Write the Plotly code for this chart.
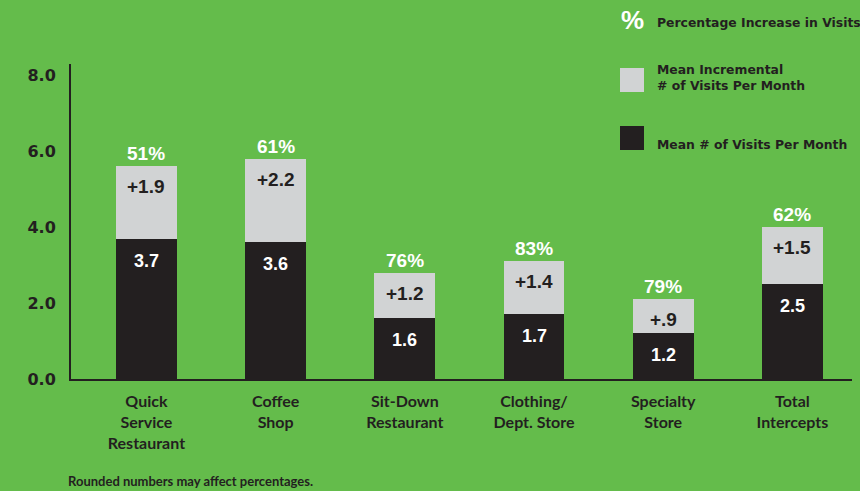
import plotly.graph_objects as go

categories = ["Quick<br>Service<br>Restaurant", "Coffee<br>Shop", "Sit-Down<br>Restaurant",
              "Clothing/<br>Dept. Store", "Specialty<br>Store", "Total<br>Intercepts"]
mean_visits = [3.7, 3.6, 1.6, 1.7, 1.2, 2.5]
incremental = [1.9, 2.2, 1.2, 1.4, 0.9, 1.5]
incremental_labels = ["+1.9", "+2.2", "+1.2", "+1.4", "+.9", "+1.5"]
pct_increase = ["51%", "61%", "76%", "83%", "79%", "62%"]
y_ticks = [0, 2, 4, 6, 8]
y_tick_labels = ["0.0", "2.0", "4.0", "6.0", "8.0"]

GREEN = "#64BC4B"
DARK = "#231F20"
LIGHT = "#D1D3D4"
WIDE = "DejaVu Sans"
NARROW = "Lato, Roboto, sans-serif"
NUM = "Liberation Sans, Arial, sans-serif"

xs = list(range(len(categories)))

fig = go.Figure()
fig.add_trace(go.Bar(x=xs, y=mean_visits, marker=dict(color=DARK, line=dict(width=0)),
                     width=0.47, name="Mean # of Visits Per Month", hoverinfo="skip"))
fig.add_trace(go.Bar(x=xs, y=incremental, marker=dict(color=LIGHT, line=dict(width=0)),
                     width=0.47, name="Mean Incremental # of Visits Per Month", hoverinfo="skip"))

ann = []
for i, x in enumerate(xs):
    top = mean_visits[i] + incremental[i]
    ann.append(dict(x=x, y=top, text=pct_increase[i], showarrow=False, yanchor="bottom",
                    yshift=0, font=dict(family=NUM, size=19, color="white", weight="bold")))
    ann.append(dict(x=x, y=top, text=incremental_labels[i], showarrow=False, yanchor="top",
                    yshift=-8, font=dict(family=NUM, size=19, color=DARK, weight="bold")))
    ann.append(dict(x=x, y=mean_visits[i], text=f"{mean_visits[i]:.1f}", showarrow=False,
                    yanchor="top", yshift=-10, font=dict(family=NUM, size=18, color="white", weight="bold")))

# legend (manual)
ann.append(dict(xref="paper", yref="paper", x=(619 - 71) / 781, y=(379 - 20) / 315, text="%",
                showarrow=False, xanchor="left", yanchor="middle",
                font=dict(family=NUM, size=26, color="white", weight="bold")))
ann.append(dict(xref="paper", yref="paper", x=(655 - 71) / 781, y=(379 - 22) / 315,
                text="Percentage Increase in Visits", showarrow=False, xanchor="left", yanchor="middle",
                font=dict(family=WIDE, size=12.4, color=DARK, weight="bold")))
ann.append(dict(xref="paper", yref="paper", x=(655 - 71) / 781, y=(379 - 78) / 315,
                text="Mean Incremental<br># of Visits Per Month", showarrow=False, xanchor="left",
                yanchor="middle", align="left",
                font=dict(family=WIDE, size=12.4, color=DARK, weight="bold")))
ann.append(dict(xref="paper", yref="paper", x=(655 - 71) / 781, y=(379 - 144) / 315,
                text="Mean # of Visits Per Month", showarrow=False, xanchor="left", yanchor="middle",
                font=dict(family=WIDE, size=12.4, color=DARK, weight="bold")))
ann.append(dict(xref="paper", yref="paper", x=(66 - 71) / 781, y=(379 - 481) / 315,
                text="Rounded numbers may affect percentages.", showarrow=False, xanchor="left",
                yanchor="middle", font=dict(family=NARROW, size=13, color=DARK, weight="bold")))

shapes = [
    dict(type="rect", xref="paper", yref="paper", x0=(620 - 71) / 781, x1=(644 - 71) / 781,
         y0=(379 - 92) / 315, y1=(379 - 68) / 315, fillcolor=LIGHT, line=dict(width=0)),
    dict(type="rect", xref="paper", yref="paper", x0=(620 - 71) / 781, x1=(644 - 71) / 781,
         y0=(379 - 150) / 315, y1=(379 - 126) / 315, fillcolor=DARK, line=dict(width=0)),
]

fig.update_layout(
    width=860, height=491,
    margin=dict(l=71, r=8, t=64, b=112),
    paper_bgcolor=GREEN, plot_bgcolor=GREEN,
    barmode="stack", showlegend=False,
    annotations=ann, shapes=shapes,
    xaxis=dict(range=[-0.584, 5.461], tickvals=xs, ticktext=categories, showgrid=False,
               zeroline=False, showline=True, linecolor=DARK, linewidth=2, ticks="",
               ticklabelstandoff=7,
               tickfont=dict(family=NARROW, size=16, color=DARK, weight="bold"), fixedrange=True),
    yaxis=dict(range=[0, 8.3], tickvals=y_ticks, ticktext=y_tick_labels, showgrid=False,
               zeroline=False, showline=True, linecolor=DARK, linewidth=2, ticks="",
               ticklabelstandoff=10,
               tickfont=dict(family=WIDE, size=16, color=DARK, weight="bold"), fixedrange=True),
)

fig.write_html("out.html", config={"displayModeBar": False},
               post_script="document.body.style.margin='0';document.body.style.background='%s';" % GREEN)
